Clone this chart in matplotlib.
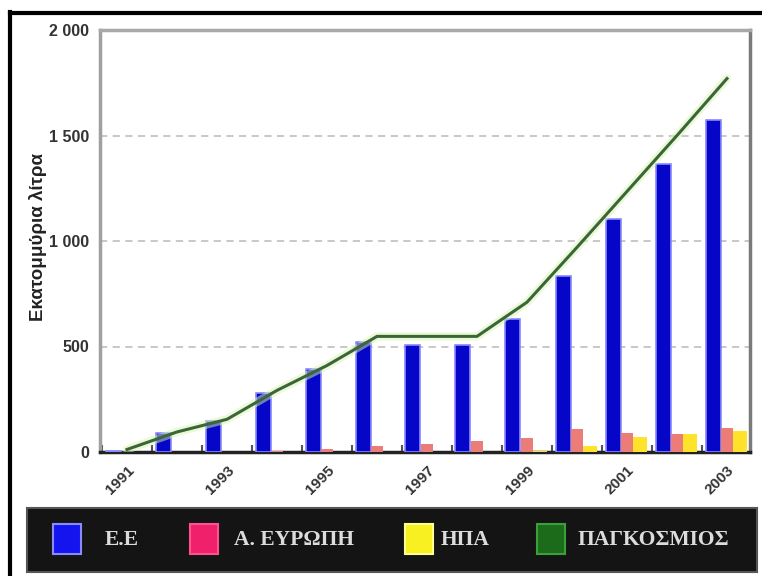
import matplotlib.pyplot as plt
import numpy as np
from matplotlib.patches import Rectangle
from matplotlib.lines import Line2D

# data (million litres)
years = list(range(1991, 2004))
eu = [5, 90, 146, 278, 392, 520, 505, 505, 632, 835, 1105, 1365, 1575]
east_europe = [0, 0, 0, 5, 12, 30, 38, 52, 68, 108, 92, 85, 115]
usa = [0, 0, 0, 0, 0, 0, 0, 0, 5, 30, 70, 85, 100]
world = [12, 95, 155, 292, 410, 548, 548, 548, 710, 970, 1235, 1500, 1770]

y_ticks = [0, 500, 1000, 1500, 2000]
y_tick_labels = ['0', '500', '1 000', '1 500', '2 000']
legend_labels = ['Ε.Ε', 'Α. ΕΥΡΩΠΗ', 'ΗΠΑ', 'ΠΑΓΚΟΣΜΙΟΣ']

W, H = 762, 576
plt.rcParams['font.family'] = ['Liberation Sans', 'DejaVu Sans']

fig = plt.figure(figsize=(W / 100, H / 100), dpi=100)
ax = fig.add_axes([100 / W, 1 - 452 / H, 650 / W, 422 / H])

x = np.arange(len(years))
ax.bar(x - 0.28, eu, 0.3, color='#0606c8', edgecolor='#8888ff', linewidth=1.2, zorder=3)
ax.bar(x, east_europe, 0.24, color='#ec7c78', linewidth=0, zorder=3)
ax.bar(x + 0.25, usa, 0.28, color='#ffe22a', linewidth=0, zorder=3)
ax.plot(x, world, color='#d8f5b0', lw=6, alpha=0.5, zorder=4, solid_capstyle='round')
ax.plot(x, world, color='#3a663a', lw=2.2, zorder=5)

ax.set_xlim(-0.54, 12.46)
ax.set_ylim(0, 2000)
ax.set_yticks(y_ticks)
ax.set_yticklabels(y_tick_labels, fontsize=11.5, fontweight='bold', color='#333333')
ax.set_xticks(x[::2])
ax.set_xticklabels([str(y) for y in years[::2]], rotation=45, ha='right',
                   rotation_mode='anchor', fontsize=11, fontweight='bold', color='#333333')
ax.set_xticks(x - 0.5, minor=True)
ax.tick_params(axis='x', which='major', length=0, pad=8)
ax.tick_params(axis='x', which='minor', length=5, direction='in', color='#555555', width=1.5)
ax.tick_params(axis='y', length=0, pad=8)

ax.set_axisbelow(True)
ax.yaxis.grid(True, linestyle=(0, (4, 3)), color='#c4c4c4', lw=1.3)

ax.set_ylabel('Εκατομμύρια λίτρα', fontsize=13.5, fontweight='bold', color='#222222')
ax.yaxis.set_label_coords((47 - 100) / 650, 0.51)

ax.spines['left'].set_color('#a0a0a0')
ax.spines['top'].set_color('#a8a8a8')
ax.spines['right'].set_color('#7a7a7a')
ax.spines['bottom'].set_color('#222222')
for s in ax.spines.values():
    s.set_linewidth(2.5)

# outer frame (left and top only)
fig.add_artist(Line2D([10 / W, 10 / W], [0, 1 - 12 / H], transform=fig.transFigure, color='black', lw=3))
fig.add_artist(Line2D([10 / W, 1], [1 - 13 / H, 1 - 13 / H], transform=fig.transFigure, color='black', lw=3))

# legend strip
fig.add_artist(Rectangle((27 / W, 4 / H), 730 / W, 64 / H, transform=fig.transFigure,
                         facecolor='#141414', edgecolor='#555555', lw=1.5))
sq_x = [53, 190, 405, 537]
txt_x = [105, 234, 441, 578]
sq_colors = ['#1414ee', '#f0206a', '#f8f020', '#1b6b1b']
sq_edges = ['#8a8aff', '#ff5090', '#ffff90', '#3aa03a']
for i in range(4):
    fig.add_artist(Rectangle((sq_x[i] / W, 1 - 554 / H), 28 / W, 30 / H, transform=fig.transFigure,
                             facecolor=sq_colors[i], edgecolor=sq_edges[i], lw=1.5))
    fig.text(txt_x[i] / W, 1 - 540 / H, legend_labels[i], color='#dcdcdc', fontsize=15.5,
             fontweight='bold', va='center', ha='left', family=['Liberation Serif', 'DejaVu Serif'])

fig.savefig('out.png', dpi=100)
